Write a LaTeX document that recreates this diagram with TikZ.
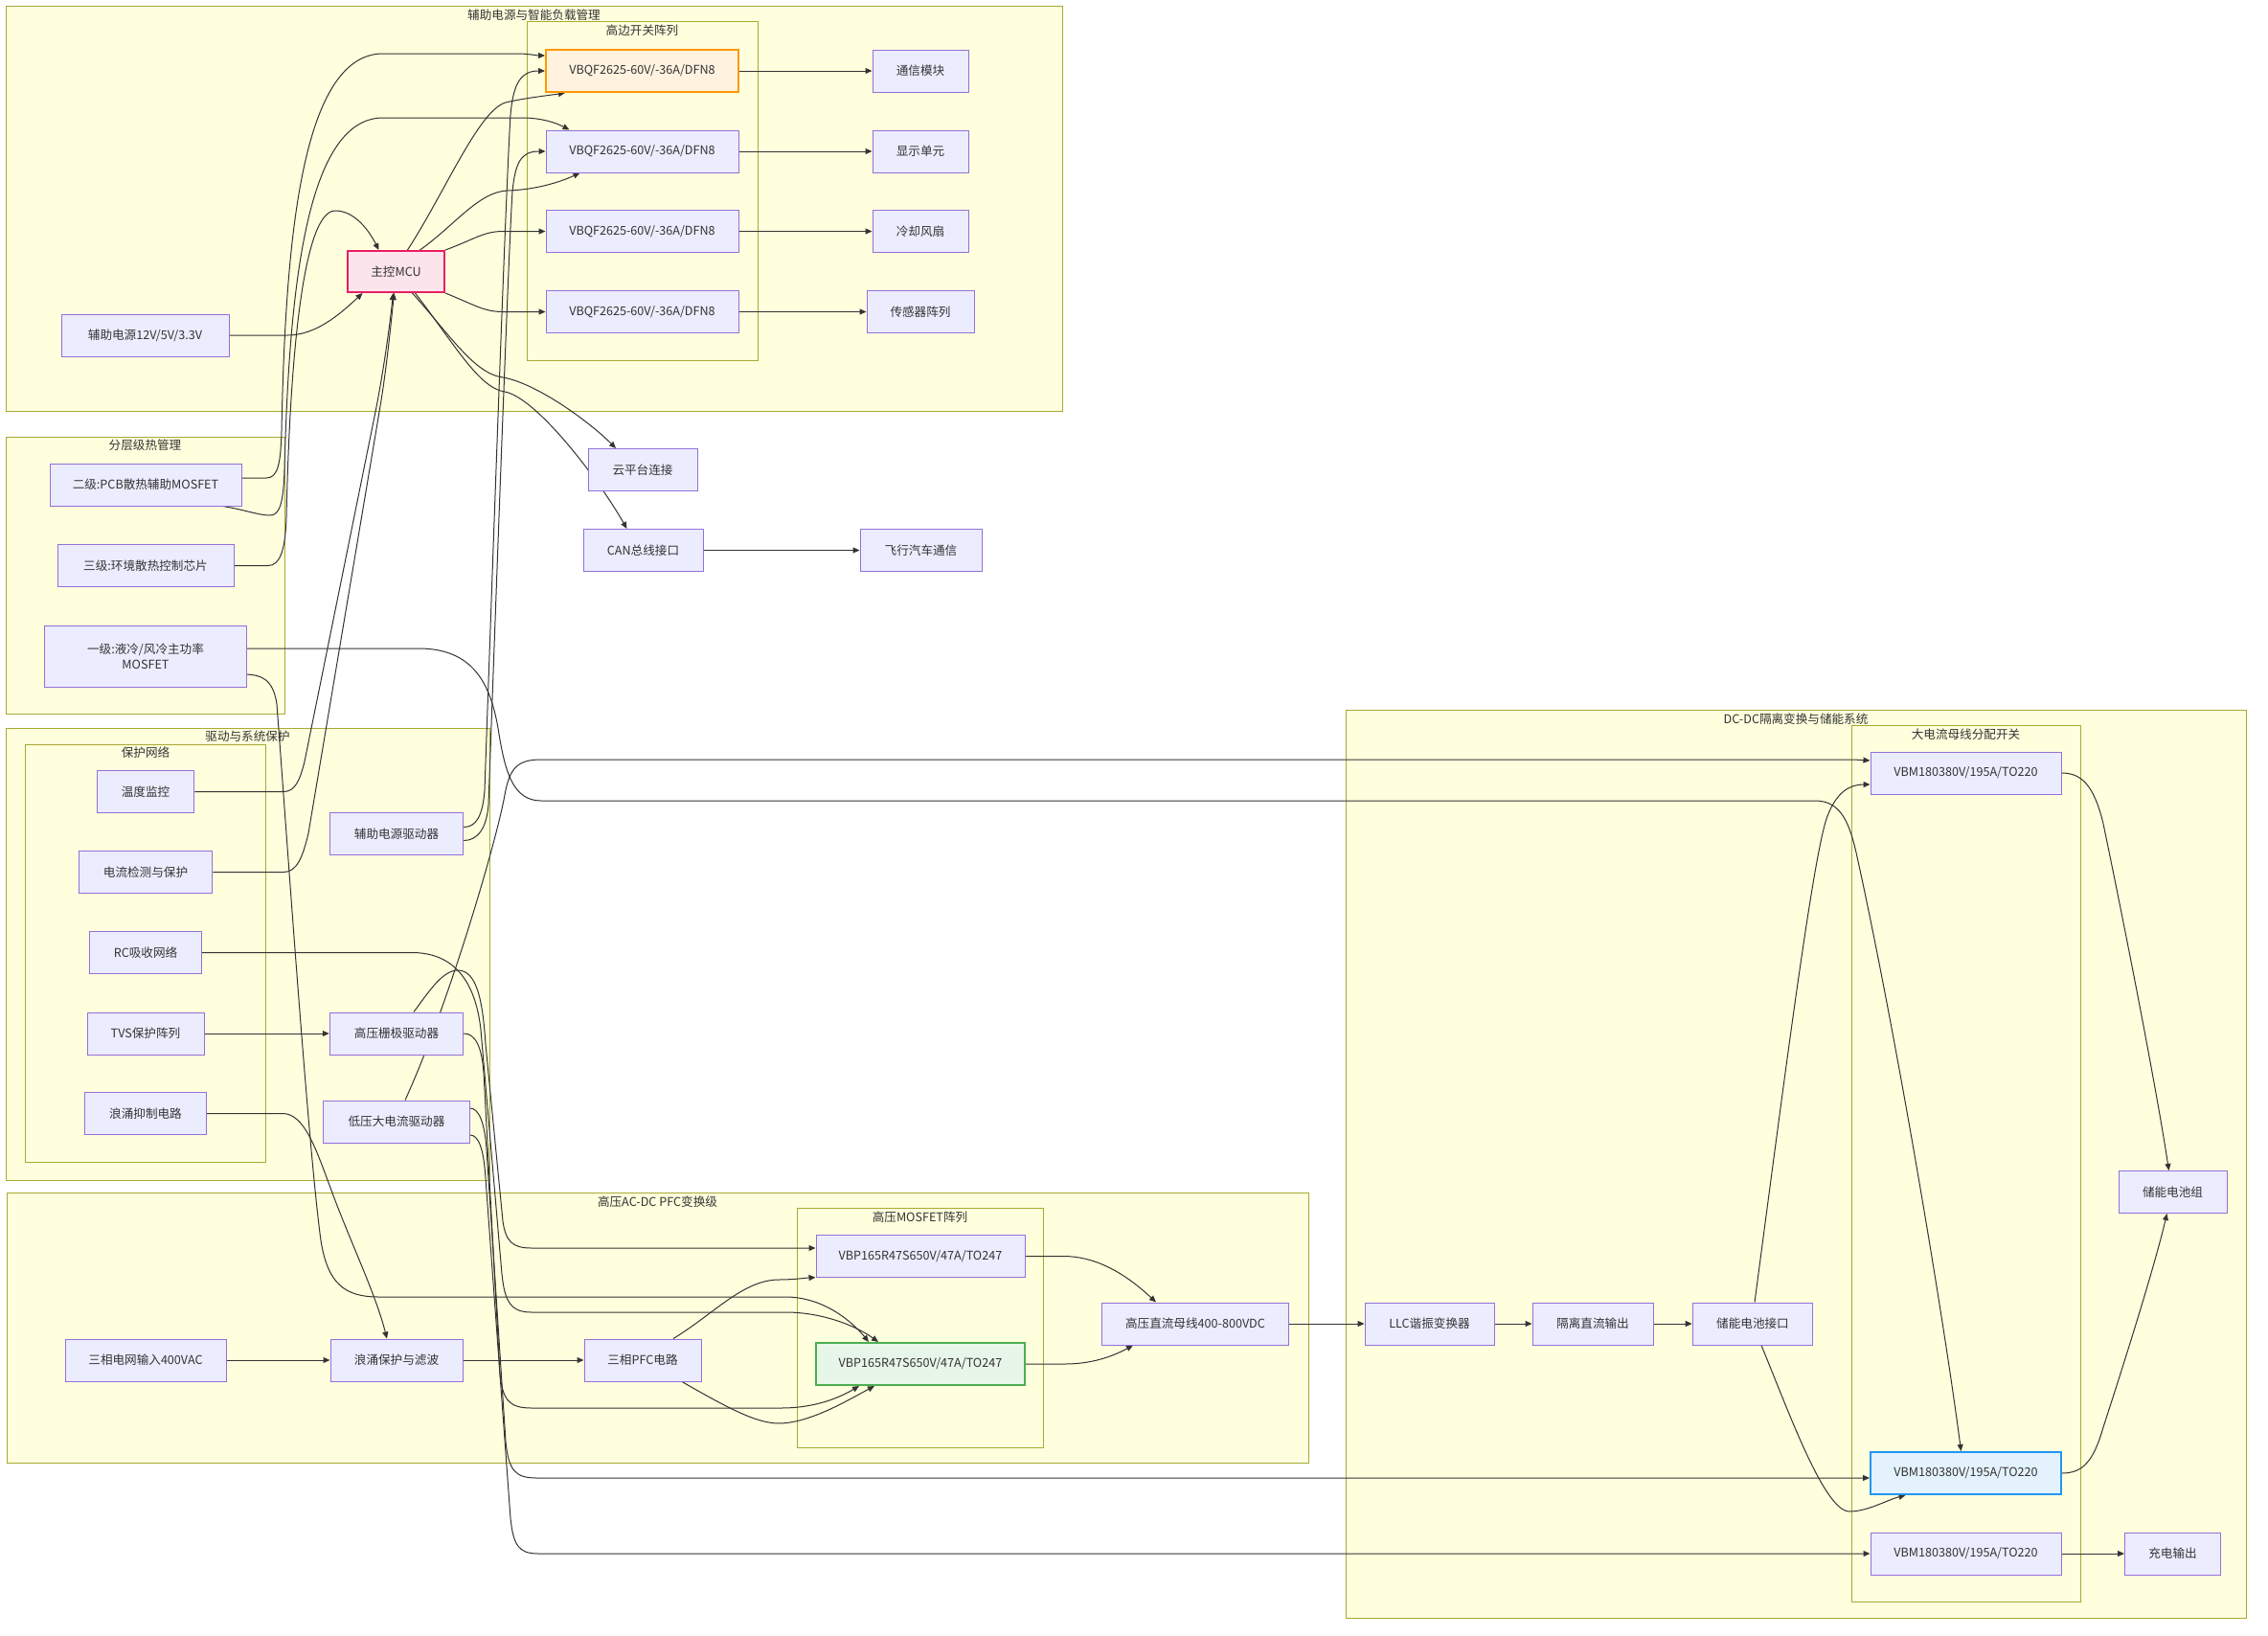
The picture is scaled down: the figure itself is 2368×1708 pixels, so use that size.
\documentclass[tikz,border=0pt]{standalone}
\usepackage{fontspec}
\setmainfont{Noto Sans CJK SC}
\usetikzlibrary{arrows.meta,calc}
\definecolor{nfill}{HTML}{ECECFF}
\definecolor{nstroke}{HTML}{9370DB}
\definecolor{cfill}{HTML}{FFFFDE}
\definecolor{cstroke}{HTML}{AAAA33}
\definecolor{txt}{HTML}{333333}
\definecolor{edgec}{HTML}{333333}
\definecolor{ofill}{HTML}{FFF3E0}
\definecolor{ostroke}{HTML}{FF9800}
\definecolor{pfill}{HTML}{FCE4EC}
\definecolor{pstroke}{HTML}{E91E63}
\definecolor{gfill}{HTML}{E8F5E9}
\definecolor{gstroke}{HTML}{4CAF50}
\definecolor{bfill}{HTML}{E3F2FD}
\definecolor{bstroke}{HTML}{2196F3}
\newcommand\mynodefont{\fontsize{6.3pt}{8pt}\selectfont}
\pgfdeclarelayer{bg}
\pgfdeclarelayer{edgelayer}
\pgfsetlayers{bg,edgelayer,main}
\tikzset{
  box/.style={draw=nstroke, fill=nfill, line width=0.5pt, text=txt, inner sep=0pt,
    minimum height=22pt, font=\mynodefont, align=center},
  obox/.style={box, draw=ostroke, fill=ofill, line width=1pt},
  pbox/.style={box, draw=pstroke, fill=pfill, line width=1pt},
  gbox/.style={box, draw=gstroke, fill=gfill, line width=1pt},
  bbox/.style={box, draw=bstroke, fill=bfill, line width=1pt},
  cluster/.style={draw=cstroke, fill=cfill, line width=0.5pt},
  ctitle/.style={text=txt, font=\mynodefont, inner sep=0pt},
  edge/.style={draw=edgec, line width=0.5pt, -{Triangle[length=3.5pt,width=3pt]}},
}
\begin{document}
\begin{tikzpicture}[x=0.5pt,y=-0.5pt]
\useasboundingbox (0,0) rectangle (2368,1708);
\begin{pgfonlayer}{bg}
\fill[white] (0,0) rectangle (2368,1708);
% clusters
\draw[cluster] (6,6) rectangle (1109,429);
\node[ctitle] (tAux) at (557.5,16) {辅助电源与智能负载管理};
\draw[cluster] (550,22) rectangle (791,376);
\node[ctitle] (tHs) at (670.5,32) {高边开关阵列};
\draw[cluster] (6,456) rectangle (297,745);
\node[ctitle] (tTh) at (151.5,465) {分层级热管理};
\draw[cluster] (6,760) rectangle (511,1232);
\node[ctitle] (tDrv) at (258.5,769) {驱动与系统保护};
\draw[cluster] (26,777) rectangle (277.5,1213);
\node[ctitle] (tProt) at (152,786) {保护网络};
\draw[cluster] (7,1245) rectangle (1366,1527);
\node[ctitle] (tPfc) at (686.5,1255) {高压AC-DC PFC变换级};
\draw[cluster] (832,1261) rectangle (1089,1511);
\node[ctitle] (tHvm) at (960.5,1271) {高压MOSFET阵列};
\draw[cluster] (1405,741) rectangle (2345,1689);
\node[ctitle] (tDc) at (1875,751) {DC-DC隔离变换与储能系统};
\draw[cluster] (1933,757) rectangle (2172,1672);
\node[ctitle] (tBus) at (2052.5,767) {大电流母线分配开关};
\end{pgfonlayer}

% nodes: aux power & load management
\node[obox, minimum width=100.5pt] (q1) at (670.5,74) {VBQF2625-60V/-36A/DFN8};
\node[box, minimum width=100.5pt] (q2) at (670.5,158) {VBQF2625-60V/-36A/DFN8};
\node[box, minimum width=100.5pt] (q3) at (670.5,241.5) {VBQF2625-60V/-36A/DFN8};
\node[box, minimum width=100.5pt] (q4) at (670.5,325.5) {VBQF2625-60V/-36A/DFN8};
\node[box, minimum width=50pt] (comm) at (961,74) {通信模块};
\node[box, minimum width=50pt] (disp) at (961,158) {显示单元};
\node[box, minimum width=50pt] (fan) at (961,241.5) {冷却风扇};
\node[box, minimum width=56pt] (sens) at (961,325.5) {传感器阵列};
\node[pbox, minimum width=50.5pt, minimum height=21.5pt] (mcu) at (413.5,283.5) {主控MCU};
\node[box, minimum width=87.5pt] (aux12) at (151.5,350) {辅助电源12V/5V/3.3V};
\node[box, minimum width=57pt] (cloud) at (671,490.5) {云平台连接};
\node[box, minimum width=62.5pt] (can) at (671.5,574.5) {CAN总线接口};
\node[box, minimum width=63.5pt] (fly) at (961.5,574.5) {飞行汽车通信};
% thermal
\node[box, minimum width=100pt] (t2) at (152,506) {二级:PCB散热辅助MOSFET};
\node[box, minimum width=92pt] (t3) at (152,590.5) {三级:环境散热控制芯片};
\node[box, minimum width=105.5pt, minimum height=32pt] (t1) at (152,685) {一级:液冷/风冷主功率\\MOSFET};
% drive & protection
\node[box, minimum width=50.75pt] (temp) at (152,826.5) {温度监控};
\node[box, minimum width=69.75pt] (cur) at (152,910.5) {电流检测与保护};
\node[box, minimum width=58.25pt] (rc) at (152,994.5) {RC吸收网络};
\node[box, minimum width=61pt] (tvs) at (152,1079) {TVS保护阵列};
\node[box, minimum width=63.5pt] (surge) at (152,1162.5) {浪涌抑制电路};
\node[box, minimum width=69.75pt] (auxdrv) at (414,870.5) {辅助电源驱动器};
\node[box, minimum width=69.75pt] (hvdrv) at (414,1079) {高压栅极驱动器};
\node[box, minimum width=76.25pt] (lvdrv) at (414,1171) {低压大电流驱动器};
% PFC
\node[box, minimum width=84pt] (grid) at (152,1420) {三相电网输入400VAC};
\node[box, minimum width=69pt] (surgef) at (414,1420) {浪涌保护与滤波};
\node[box, minimum width=61pt] (pfc) at (671,1420) {三相PFC电路};
\node[box, minimum width=109pt, minimum height=21.75pt] (vbp1) at (961,1311.5) {VBP165R47S650V/47A/TO247};
\node[gbox, minimum width=109pt] (vbp2) at (961,1424) {VBP165R47S650V/47A/TO247};
\node[box, minimum width=97.75pt] (bus) at (1248,1382) {高压直流母线400-800VDC};
% DC-DC
\node[box, minimum width=67.5pt] (llc) at (1492.5,1382) {LLC谐振变换器};
\node[box, minimum width=63pt] (iso) at (1663,1382) {隔离直流输出};
\node[box, minimum width=62.8pt] (batif) at (1830,1382) {储能电池接口};
\node[box, minimum width=99.5pt] (vbm1) at (2052.5,807) {VBM180380V/195A/TO220};
\node[bbox, minimum width=99.5pt] (vbm2) at (2052.5,1538) {VBM180380V/195A/TO220};
\node[box, minimum width=99.5pt] (vbm3) at (2052.5,1622) {VBM180380V/195A/TO220};
\node[box, minimum width=56.5pt] (batpack) at (2268.5,1244.5) {储能电池组};
\node[box, minimum width=50pt] (charge) at (2268.5,1622) {充电输出};

\begin{pgfonlayer}{edgelayer}
% aux power / MCU
\draw[edge] (aux12.east) -- (300,350) .. controls (330,350) and (355,328) .. ($(mcu.south)+(-35,0)$);
\draw[edge] ($(mcu.north)+(12,0)$) .. controls (465,200) and (500,115) .. (528,107) .. controls (550,102) and (570,100) .. ($(q1.south west)+(21,0)$);
\draw[edge] ($(mcu.north)+(25,0)$) .. controls (475,235) and (500,200) .. (530,199) .. controls (560,198) and (585,190) .. ($(q2.south west)+(36,0)$);
\draw[edge] (mcu.north east) .. controls (495,250) and (505,241.5) .. (525,241.5) -- (q3.west);
\draw[edge] (mcu.south east) .. controls (495,318) and (505,325.5) .. (525,325.5) -- (q4.west);
\draw[edge] (q1.east) -- (comm.west);
\draw[edge] (q2.east) -- (disp.west);
\draw[edge] (q3.east) -- (fan.west);
\draw[edge] (q4.east) -- (sens.west);
\draw[edge] ($(mcu.south)+(17,0)$) .. controls (470,350) and (495,390) .. (525,394) .. controls (560,400) and (615,440) .. ($(cloud.north)+(-28,0)$);
\draw[edge] ($(mcu.south)+(20,0)$) .. controls (475,360) and (500,405) .. (527,409) .. controls (560,415) and (625,500) .. ($(can.north)+(-17,0)$);
\draw[edge] (can.east) -- (fly.west);
% thermal
\draw[edge] ($(t2.east)+(0,-7)$) -- (278,499) .. controls (290,499) and (293,485) .. (294,450) .. controls (298,250) and (315,56) .. (400,56) -- (540,56) .. controls (552,56) and (560,58) .. ($(q1.west)+(0,-16)$);
\draw[edge] ($(t2.south east)+(-20,0)$) .. controls (255,532) and (270,538) .. (282,538) .. controls (292,538) and (296,525) .. (297,490) .. controls (302,300) and (320,123) .. (400,123) -- (545,123) .. controls (565,123) and (580,128) .. ($(q2.north west)+(25,0)$);
\draw[edge] (t3.east) -- (280,590.5) .. controls (292,590.5) and (298,575) .. (299,540) .. controls (303,360) and (318,220) .. (350,220) .. controls (370,220) and (385,240) .. ($(mcu.north)+(-18,0)$);
\draw[edge] ($(t1.east)+(0,-8)$) -- (437,677) .. controls (495,677) and (512,715) .. (520,760) .. controls (527,805) and (535,836) .. (565,836) -- (1895,836) .. controls (1920,836) and (1930,855) .. (1938,890) .. controls (1980,1080) and (2030,1380) .. ($(vbm2.north)+(-5,0)$);
\draw[edge] ($(t1.east)+(0,19)$) .. controls (272,705) and (285,708) .. (289,735) .. controls (300,880) and (322,1200) .. (335,1295) .. controls (342,1340) and (360,1354) .. (395,1354) -- (820,1354) .. controls (860,1354) and (890,1380) .. ($(vbp2.north)+(-54,0)$);
% protection to MCU
\draw[edge] (temp.east) -- (296,826.5) .. controls (308,826.5) and (313,815) .. (318,795) -- (392,430) .. controls (400,390) and (407,340) .. ($(mcu.south)+(-3,0)$);
\draw[edge] (cur.east) -- (296,910.5) .. controls (310,910.5) and (316,895) .. (322,870) -- (396,430) .. controls (403,390) and (408,340) .. ($(mcu.south)+(-2,0)$);
% drivers
\draw[edge] ($(auxdrv.east)+(0,-7)$) .. controls (497,863.5) and (504,852) .. (506,825) .. controls (514,600) and (528,200) .. (533,120) .. controls (536,85) and (545,74) .. (q1.west);
\draw[edge] ($(auxdrv.east)+(0,7)$) .. controls (498,877.5) and (508,866) .. (510,840) .. controls (518,620) and (531,260) .. (535,200) .. controls (538,168) and (545,158) .. (q2.west);
\draw[edge] (tvs.east) -- (hvdrv.west);
\draw[edge] (surge.east) -- (295,1162.5) .. controls (318,1162.5) and (330,1200) .. (345,1240) .. controls (365,1295) and (392,1350) .. ($(surgef.north)+(-10,0)$);
\draw[edge] ($(hvdrv.north)+(18,0)$) .. controls (448,1035) and (462,1013) .. (478,1013) .. controls (498,1013) and (504,1045) .. (507,1090) -- (525,1275) .. controls (528,1296) and (535,1303) .. (555,1303) -- ($(vbp1.west)+(0,-8.5)$);
\draw[edge] (rc.east) -- (430,994.5) .. controls (478,994.5) and (497,1030) .. (502,1075) -- (524,1330) .. controls (527,1360) and (534,1370) .. (555,1370) -- (820,1370) .. controls (860,1370) and (895,1385) .. ($(vbp2.north)+(-44,0)$);
\draw[edge] (hvdrv.east) .. controls (496,1079) and (503,1092) .. (505,1120) -- (522,1435) .. controls (525,1462) and (532,1470) .. (555,1470) -- (815,1470) .. controls (850,1470) and (875,1460) .. ($(vbp2.south)+(-64,0)$);
\draw[edge] ($(lvdrv.north)+(9,0)$) .. controls (468,1050) and (518,880) .. (527,830) .. controls (532,802) and (540,793) .. (565,793) -- (1935,793) -- ($(vbm1.west)+(0,-13)$);
\draw[edge] ($(lvdrv.east)+(0,-14)$) .. controls (500,1157) and (506,1172) .. (508,1200) -- (528,1505) .. controls (531,1535) and (538,1543) .. (560,1543) -- ($(vbm2.west)+(0,5)$);
\draw[edge] ($(lvdrv.east)+(0,14)$) .. controls (500,1185) and (505,1200) .. (507,1230) -- (533,1585) .. controls (536,1614) and (542,1622) .. (562,1622) -- (vbm3.west);
% PFC chain
\draw[edge] (grid.east) -- (surgef.west);
\draw[edge] (surgef.east) -- (pfc.west);
\draw[edge] ($(pfc.north)+(32,0)$) .. controls (745,1372) and (775,1337) .. (812,1336) .. controls (830,1336) and (842,1334) .. (vbp1.south west);
\draw[edge] ($(pfc.south)+(41,0)$) .. controls (760,1470) and (790,1486) .. (813,1486) .. controls (845,1486) and (885,1462) .. ($(vbp2.south)+(-48,0)$);
\draw[edge] (vbp1.east) -- (1110,1311.5) .. controls (1140,1311.5) and (1170,1325) .. ($(bus.north)+(-41,0)$);
\draw[edge] (vbp2.east) -- (1112,1424) .. controls (1140,1424) and (1162,1416) .. ($(bus.south)+(-65,0)$);
% DC-DC
\draw[edge] (bus.east) -- (llc.west);
\draw[edge] (llc.east) -- (iso.west);
\draw[edge] (iso.east) -- (batif.west);
\draw[edge] ($(batif.north)+(2,0)$) .. controls (1860,1150) and (1893,890) .. (1908,852) .. controls (1918,826) and (1932,819) .. ($(vbm1.west)+(0,12)$);
\draw[edge] ($(batif.south)+(9,0)$) .. controls (1868,1475) and (1905,1578) .. (1931,1578) .. controls (1950,1578) and (1970,1566) .. ($(vbm2.south)+(-63,0)$);
\draw[edge] (vbm1.east) .. controls (2172,807) and (2186,818) .. (2196,860) .. controls (2222,985) and (2252,1140) .. ($(batpack.north)+(-4,0)$);
\draw[edge] (vbm2.east) .. controls (2175,1538) and (2186,1525) .. (2196,1490) .. controls (2222,1410) and (2250,1320) .. ($(batpack.south)+(-6,0)$);
\draw[edge] (vbm3.east) -- (charge.west);
\end{pgfonlayer}
\end{tikzpicture}
\end{document}
